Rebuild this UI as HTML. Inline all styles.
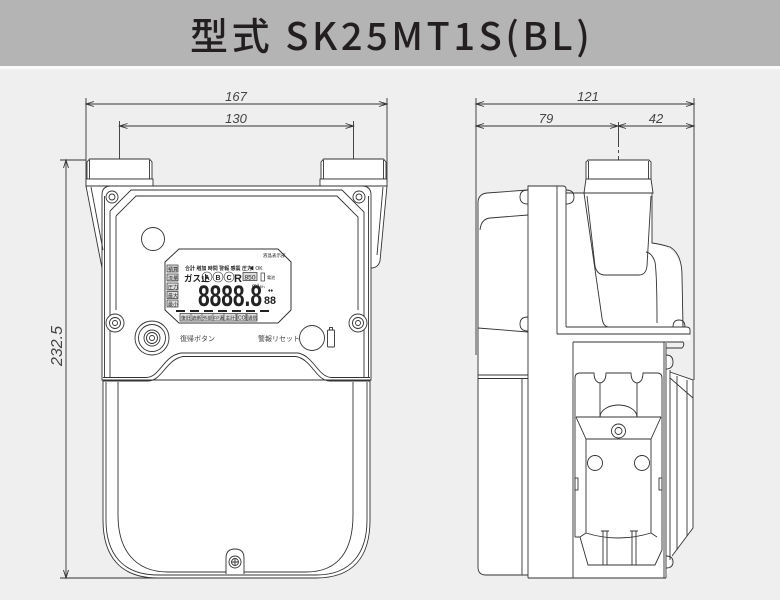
<!DOCTYPE html>
<html><head><meta charset="utf-8">
<style>
html,body{margin:0;padding:0;width:780px;height:600px;overflow:hidden;background:#efefef;}
svg{display:block}
</style></head><body>
<svg width="780" height="600" viewBox="0 0 780 600" xmlns="http://www.w3.org/2000/svg">
<rect width="780" height="600" fill="#efefef"/>
<rect width="780" height="66" fill="#b4b4b4"/>
<rect y="66" width="780" height="3" fill="#fafafa"/>
<text x="190" y="50" font-family="'Noto Sans CJK JP','Liberation Sans',sans-serif" font-size="38" font-weight="500" letter-spacing="3.6" fill="#231f20">型式 SK25MT1S(BL)</text>

<!-- ================= FRONT VIEW ================= -->
<g fill="none" stroke="#333" stroke-width="0.9">
  <line x1="86" y1="98" x2="86" y2="186"/>
  <line x1="387" y1="98" x2="387" y2="182"/>
  <line x1="86" y1="104" x2="387" y2="104"/>
  <path d="M94,101.5 L86,104 L94,106.5 M379,101.5 L387,104 L379,106.5"/>
  <line x1="119.5" y1="121" x2="119.5" y2="179"/>
  <line x1="353.5" y1="121" x2="353.5" y2="179"/>
  <line x1="119.5" y1="126" x2="353.5" y2="126"/>
  <path d="M127.5,123.5 L119.5,126 L127.5,128.5 M345.5,123.5 L353.5,126 L345.5,128.5"/>
  <line x1="60" y1="160" x2="86" y2="160"/>
  <line x1="60" y1="578" x2="160" y2="578"/>
  <line x1="66" y1="160" x2="66" y2="578"/>
  <path d="M63.5,168 L66,160 L68.5,168 M63.5,570 L66,578 L68.5,570"/>
</g>
<g font-family="'Liberation Sans',sans-serif" font-style="italic" fill="#444">
  <text x="236" y="101" font-size="13" text-anchor="middle">167</text>
  <text x="236" y="123" font-size="13" text-anchor="middle">130</text>
  <text transform="translate(62,346) rotate(-90)" font-size="16" text-anchor="middle">232.5</text>
</g>

<g fill="#fff" stroke="#333" stroke-width="0.9">
  <path d="M87,179 L87,162 L89.5,159 L149.5,159 L152,162 L152,179 Z"/>
  <path d="M321,179 L321,162 L323.5,159 L383.5,159 L386,162 L386,179 Z"/>
  <rect x="86" y="179" width="67" height="7"/>
  <rect x="320" y="179" width="67" height="7"/>
  <path d="M86,186 L387,186 L380,261 Q378,268 371,268 L102,268 Z"/>
  <path d="M103,378 L103,520 C103,556 120,578 158,578 L316,578 C354,578 370,556 370,520 L370,378 Z"/>
  <path d="M102,380 L102,195 Q102,186 111,186 L362,186 Q371,186 371,195 L371,380 Z"/>
</g>
<g fill="none" stroke="#333" stroke-width="0.9">
  <line x1="89.5" y1="160" x2="89.5" y2="179"/>
  <line x1="149.5" y1="160" x2="149.5" y2="179"/>
  <line x1="323.5" y1="160" x2="323.5" y2="179"/>
  <line x1="383.5" y1="160" x2="383.5" y2="179"/>
  <path d="M91,187 L103,250"/>
  <path d="M383,187 L377,255"/>
  <line x1="104.5" y1="196" x2="104.5" y2="378"/>
  <line x1="368.5" y1="196" x2="368.5" y2="378"/>
  <path d="M110,211 L131,190 L342,190 L364,212 L364,378"/>
  <path d="M110,211 L110,378"/>
  <path d="M116,216 L136,196 L337,196 L358,217 L358,310"/>
  <path d="M116,216 L116,310"/>
  <path d="M103,377.5 L146,377.5 C160,377.5 163,356 181,353 L298,353 C314,356 318,377.5 332,377.5 L370,377.5"/>
  <path d="M103,381 L148,381 C162,381 166,359.5 183,356.5 L296,356.5 C312,359.5 316,381 330,381 L370,381"/>
  <path d="M106,382 L106,520 C106,553 122,575 158,575 L316,575 C351,575 367,553 367,520 L367,382"/>
  <path d="M118,382 L118,515 C118,550 135,572 168,572 L306,572 C339,572 353,550 353,515 L353,382"/>
</g>
<g fill="#fff" stroke="#333" stroke-width="0.9">
  <circle cx="112" cy="197" r="6"/><circle cx="112" cy="197" r="3"/>
  <circle cx="359" cy="197" r="6"/><circle cx="359" cy="197" r="3"/>
  <circle cx="115" cy="323" r="9"/><circle cx="115" cy="323" r="5.5"/><circle cx="115" cy="323" r="2.5"/>
  <circle cx="358" cy="323" r="9"/><circle cx="358" cy="323" r="5.5"/><circle cx="358" cy="323" r="2.5"/>
  <path d="M226,574 L226,558 Q226,549 235,549 Q244,549 244,558 L244,574"/>
  <circle cx="235" cy="562" r="6"/><circle cx="235" cy="562" r="3.5"/>
  <path d="M232,562 L238,562 M235,559 L235,565" fill="none"/>
  <circle cx="153" cy="239" r="11.5"/>
  <circle cx="152" cy="338" r="17"/>
  <circle cx="152" cy="338" r="13.5"/>
  <circle cx="152" cy="338" r="8"/>
  <circle cx="152" cy="338" r="5.5"/>
  <circle cx="152" cy="338" r="2.5"/>
  <circle cx="312" cy="338" r="12.5"/>
  <rect x="327.5" y="330" width="7" height="17" rx="1"/>
  <rect x="329.5" y="327.5" width="3" height="2.5"/>
</g>
<g font-family="'Liberation Sans','Noto Sans CJK JP',sans-serif" fill="#444" font-size="7">
  <text x="180" y="341">復帰ボタン</text>
  <text x="258" y="341">警報リセット</text>
</g>

<!-- LCD -->
<g>
  <path d="M179,249 L278,249 L291,262 L291,310 L278,323 L179,323 L165,310 L165,262 Z" fill="#fff" stroke="#333" stroke-width="1"/>
  <g fill="#ddd" stroke="#333" stroke-width="0.7">
    <rect x="167" y="265" width="11" height="7"/>
    <rect x="167" y="274" width="11" height="7"/>
    <rect x="167" y="283" width="11" height="7"/>
    <rect x="167" y="291.5" width="11" height="7"/>
    <rect x="167" y="300" width="11" height="7"/>
    <rect x="180" y="313.5" width="56" height="7.5"/>
    <rect x="237" y="313.5" width="9" height="7.5"/>
    <rect x="247" y="313.5" width="10" height="7.5"/>
    <rect x="243" y="272.5" width="14" height="8"/>
    <rect x="261" y="273" width="3.5" height="8" fill="#fff"/>
  </g>
  <g stroke="#333" stroke-width="0.6" fill="none">
    <line x1="191" y1="313.5" x2="191" y2="321"/>
    <line x1="202" y1="313.5" x2="202" y2="321"/>
    <line x1="213" y1="313.5" x2="213" y2="321"/>
    <line x1="224" y1="313.5" x2="224" y2="321"/>
    <circle cx="207" cy="277" r="5"/>
    <circle cx="218" cy="277" r="5"/>
    <circle cx="229" cy="277" r="5"/>
  </g>
  <g font-family="'Liberation Sans','Noto Sans CJK JP',sans-serif" fill="#222">
    <text x="168" y="271" font-size="5">積算</text>
    <text x="168" y="280" font-size="5">流量</text>
    <text x="168" y="289" font-size="5">圧力</text>
    <text x="168" y="297.5" font-size="5">最大</text>
    <text x="168" y="306" font-size="5">最小</text>
    <text x="185" y="270" font-size="5" font-weight="bold">合計 増加 時間 警報 感震 圧力</text>
    <text x="249" y="270" font-size="5">◀ OK</text>
    <text x="263" y="257" font-size="4.5">液晶表示部</text>
    <text x="184" y="281.5" font-size="8.5" font-weight="bold">ガス止</text>
    <text x="207" y="280" font-size="7" text-anchor="middle" font-weight="bold">A</text>
    <text x="218" y="280" font-size="7" text-anchor="middle" font-weight="bold">B</text>
    <text x="229" y="280" font-size="7" text-anchor="middle" font-weight="bold">C</text>
    <text x="234" y="282" font-size="11" font-weight="bold">R</text>
    <text x="244.5" y="279.5" font-size="6.5" textLength="11" lengthAdjust="spacingAndGlyphs">850</text>
    <text x="267" y="279" font-size="4">電池</text>
    <text x="198" y="306" font-size="30" font-weight="bold" textLength="64" lengthAdjust="spacingAndGlyphs">8888.8</text>
    <text x="252" y="288" font-size="6">m³</text>
    <text x="260" y="288" font-size="4">ℓ/h</text>
    <text x="268" y="292" font-size="5">♦♦</text>
    <text x="264" y="304" font-size="11" font-weight="bold" textLength="12" lengthAdjust="spacingAndGlyphs">88</text>
    <text x="181" y="319.5" font-size="4.5" textLength="54" lengthAdjust="spacingAndGlyphs">復旧 遮断 外部 FP漏 主計</text>
    <text x="238" y="319.5" font-size="5">CO</text>
    <text x="248" y="319.5" font-size="4.5">通信</text>
  </g>
  <g stroke="#222" stroke-width="2">
    <line x1="176" y1="311" x2="185" y2="311"/>
    <line x1="190" y1="311" x2="199" y2="311"/>
    <line x1="204" y1="311" x2="213" y2="311"/>
    <line x1="218" y1="311" x2="227" y2="311"/>
    <line x1="232" y1="311" x2="241" y2="311"/>
    <line x1="246" y1="311" x2="255" y2="311"/>
    <line x1="260" y1="311" x2="269" y2="311"/>
  </g>
</g>

<!-- ================= SIDE VIEW ================= -->
<g fill="none" stroke="#333" stroke-width="0.9">
  <line x1="476" y1="98" x2="476" y2="355"/>
  <line x1="694" y1="98" x2="694" y2="380"/>
  <line x1="476" y1="104" x2="694" y2="104"/>
  <path d="M484,101.5 L476,104 L484,106.5 M686,101.5 L694,104 L686,106.5"/>
  <line x1="476" y1="126" x2="694" y2="126"/>
  <path d="M484,123.5 L476,126 L484,128.5 M610,123.5 L618,126 L610,128.5 M626,123.5 L618,126 L626,128.5 M686,123.5 L694,126 L686,128.5"/>
  <path d="M618.5,122 L618.5,147 M618.5,150 L618.5,153 M618.5,156 L618.5,178"/>
</g>
<g font-family="'Liberation Sans',sans-serif" font-style="italic" fill="#444" font-size="13" text-anchor="middle">
  <text x="588" y="101">121</text>
  <text x="546" y="123">79</text>
  <text x="656" y="123">42</text>
</g>

<path fill="#fff" stroke="none" d="M478,203 Q478,194 487,193 L528,190 L528,186 L563,186 Q566,186 566,189 L566,193 L584,193 L586,179 L586,160 L651,160 L651,179 L653,193 L652,243 Q681,247 682,276 L682,327 L686,327 Q690,327 690,331 L690,340 L666,343 L666,355 L670,355 L670,372 L693,380 L693,528 L672,556 L670,566 L666,578 L528,578 L528,575 L486,575 Q478,575 478,567 Z"/>

<g fill="none" stroke="#333" stroke-width="0.9">
  <path d="M528,190 L487,193 Q478,194 478,203 L478,567 Q478,575 486,575 L528,575"/>
  <path d="M528,215 L490,218 Q481,219 480,230"/>
  <path d="M478,328 L528,332"/>
  <line x1="478" y1="375" x2="528" y2="375"/>
  <line x1="478" y1="378.5" x2="528" y2="378.5"/>
  <line x1="522" y1="379" x2="522" y2="575"/>
  <path d="M528,190 Q520,190 520,197 Q520,204 528,204"/>
  <path d="M528,317 Q520,317 520,324 Q520,331 528,331"/>
  <path d="M528,578 L528,186 L563,186 Q566,186 566,189 L566,327"/>
  <line x1="557" y1="186" x2="557" y2="334"/>
  <path d="M566,190 Q574,190 574,197 Q574,204 566,204"/>
  <line x1="573" y1="342" x2="573" y2="578"/>
  <line x1="528" y1="578" x2="573" y2="578"/>
  <path d="M566,327 L686,327 Q690,327 690,330 L690,334 L557,334"/>
  <path d="M673,327 Q673,320 679,320 Q685,320 685,327"/>
  <line x1="573" y1="342" x2="664" y2="342"/>
  <path d="M664,342 L683,342 Q685,345 682,348 L666,348"/>
  <path d="M586,179 L586,162 L588,160 L649,160 L651,162 L651,179 Z"/>
  <line x1="588.5" y1="161" x2="588.5" y2="179"/>
  <line x1="648.5" y1="161" x2="648.5" y2="179"/>
  <path d="M586,179 L584,193 L653,193 L651,179"/>
  <path d="M566,193 L584,193"/>
  <path d="M584,193 L602,318 Q603,326 608,327"/>
  <path d="M587,196 L595,266 Q597,275 605,275 L639,275 Q646,275 647,266 L651,196"/>
  <path d="M652,193 L652,243 Q660,244 670,247 Q682,254 682,276 L683,327"/>
  <path d="M646,252 Q652,253 655,262 Q657,275 657,323"/>
  <line x1="664" y1="342" x2="664" y2="578"/>
  <line x1="666" y1="343" x2="666" y2="578"/>
  <line x1="573" y1="578" x2="666" y2="578"/>
  <path d="M575,537 L575,378 Q575,373 580,373 L594,373 Q594,382 600,383 Q606,382 606,373 L631,373 Q631,382 637,383 Q643,382 643,373 L657,373 Q662,373 662,378 L662,550"/>
  <line x1="600" y1="383" x2="600" y2="417"/>
  <line x1="637" y1="383" x2="637" y2="417"/>
  <path d="M600,417 C600,410 609,405 618.5,405 C628,405 637,410 637,417"/>
  <line x1="576" y1="417" x2="661" y2="417"/>
  <path d="M576,417 L586,439 L651,439 L661,417"/>
  <circle cx="618.5" cy="431" r="7"/>
  <circle cx="618.5" cy="431" r="3.5"/>
  <path d="M586,439 L586,533 Q618,543 651,533 L651,439"/>
  <circle cx="595" cy="463" r="7.5"/>
  <circle cx="642" cy="463" r="7.5"/>
  <path d="M575,537 L580,537 L588,565 L655,565 L662,550"/>
  <path d="M586,533 L580,537 M651,533 L657,537"/>
  <path d="M603,531 L603,565 M607,531 L607,565 M601,531 L609,531"/>
  <path d="M632,531 L632,565 M636,531 L636,565 M630,531 L638,531"/>
  <rect x="575" y="478" width="3" height="12"/>
  <rect x="659" y="478" width="3" height="12"/>
  <path d="M666,355 Q673,355 673,362 Q673,369 666,369"/>
  <path d="M666,556 Q673,556 673,562 Q673,568 666,568"/>
  <path d="M670,370 L670,560"/>
  <path d="M670,372 L693,380 L693,528 L672,556"/>
  <path d="M670,378 L693,398"/>
  <line x1="677" y1="376" x2="677" y2="550"/>
  <line x1="687" y1="380" x2="687" y2="536"/>
</g>
</svg>
</body></html>
